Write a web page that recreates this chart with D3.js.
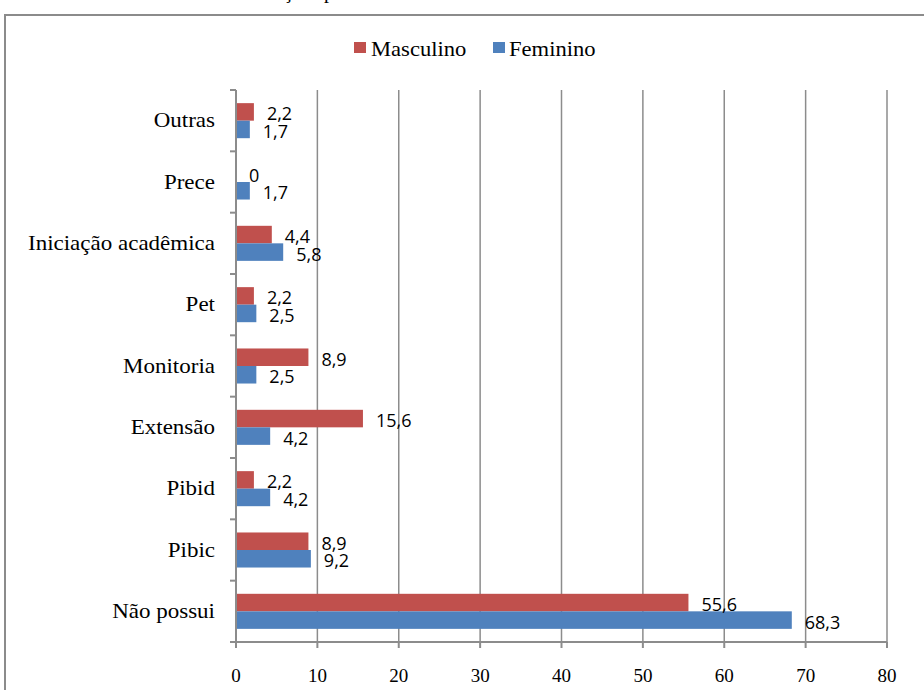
<!DOCTYPE html>
<html>
<head>
<meta charset="utf-8">
<script src="https://cdn.jsdelivr.net/npm/d3@7"></script>
<style>
  body { margin: 0; background: #fff; }
  svg { display: block; }
</style>
</head>
<body>
<svg id="chart" width="924" height="690"></svg>
<script>
const categories = ["Outras", "Prece", "Iniciação acadêmica", "Pet", "Monitoria", "Extensão", "Pibid", "Pibic", "Não possui"];
const seriesNames = ["Masculino", "Feminino"];
const masculino = [2.2, 0, 4.4, 2.2, 8.9, 15.6, 2.2, 8.9, 55.6];
const feminino = [1.7, 1.7, 5.8, 2.5, 2.5, 4.2, 4.2, 9.2, 68.3];
const xTicks = [0, 10, 20, 30, 40, 50, 60, 70, 80];
const titleText = "Bolsas e atuações por sexo";

const colors = { Masculino: "#C0504D", Feminino: "#4F81BD" };
const fmt = v => String(v).replace(".", ",");

const svg = d3.select("#chart");
const W = 924, H = 690;
svg.append("rect").attr("width", W).attr("height", H).attr("fill", "#fff");

// cut-off title (only descenders visible, as in the reference)
const title = svg.append("text")
  .attr("y", -2)
  .attr("font-family", "Liberation Serif, Times New Roman, serif")
  .attr("font-size", 20)
  .attr("fill", "#000")
  .text(titleText);
{
  const idx = titleText.indexOf("ç");
  const node = title.node();
  let off = 0, cw = 9;
  try { off = node.getSubStringLength(0, idx); cw = node.getSubStringLength(idx, 1); } catch (e) { off = 180; }
  title.attr("x", 288 - off - cw / 2);
}

// outer frame
svg.append("rect")
  .attr("x", 5).attr("y", 15)
  .attr("width", 940).attr("height", 700)
  .attr("fill", "none")
  .attr("stroke", "#8b8b8b")
  .attr("stroke-width", 2);

const x0 = 236, x1 = 887, yTop = 90, yBot = 642;
const x = d3.scaleLinear().domain([0, 80]).range([x0, x1]);
const y = d3.scaleBand().domain(categories).range([yTop, yBot]).padding(0);
const yInner = d3.scaleBand().domain(seriesNames).range([0, y.bandwidth()])
  .paddingInner(0).paddingOuter(0.75);

const gridColor = "#8c8c8c";

// vertical gridlines
svg.append("g").selectAll("line")
  .data(xTicks.filter(t => t > 0))
  .join("line")
  .attr("x1", d => x(d)).attr("x2", d => x(d))
  .attr("y1", yTop).attr("y2", yBot)
  .attr("stroke", gridColor).attr("stroke-width", 1.5);

// bars
const rows = categories.map((c, i) => ({ cat: c, Masculino: masculino[i], Feminino: feminino[i] }));
const groups = svg.append("g").selectAll("g")
  .data(rows).join("g")
  .attr("transform", d => `translate(0,${y(d.cat)})`);

groups.selectAll("rect")
  .data(d => seriesNames.map(s => ({ s, v: d[s] })))
  .join("rect")
  .attr("x", x(0))
  .attr("y", d => yInner(d.s))
  .attr("width", d => x(d.v) - x(0))
  .attr("height", yInner.bandwidth())
  .attr("fill", d => colors[d.s]);

// data labels
groups.selectAll("text")
  .data(d => seriesNames.map(s => ({ s, v: d[s] })))
  .join("text")
  .attr("x", d => x(d.v) + 13)
  .attr("y", d => yInner(d.s) + yInner.bandwidth() / 2 + 1.5)
  .attr("dominant-baseline", "central")
  .attr("font-family", "Open Sans, sans-serif")
  .attr("font-size", 18)
  .attr("fill", "#000")
  .text(d => fmt(d.v));

// axes lines
const axisG = svg.append("g");
axisG.append("line")
  .attr("x1", x0).attr("x2", x0).attr("y1", yTop).attr("y2", yBot + 6)
  .attr("stroke", gridColor).attr("stroke-width", 2);
axisG.append("line")
  .attr("x1", x0 - 6).attr("x2", x1).attr("y1", yBot).attr("y2", yBot)
  .attr("stroke", gridColor).attr("stroke-width", 2);

// y ticks at band boundaries
const yBounds = categories.map(c => y(c)).concat([yBot]);
axisG.selectAll(".yt").data(yBounds).join("line")
  .attr("x1", x0 - 6).attr("x2", x0)
  .attr("y1", d => d).attr("y2", d => d)
  .attr("stroke", gridColor).attr("stroke-width", 2);

// x ticks
axisG.selectAll(".xt").data(xTicks).join("line")
  .attr("x1", d => x(d)).attr("x2", d => x(d))
  .attr("y1", yBot).attr("y2", yBot + 6)
  .attr("stroke", gridColor).attr("stroke-width", 2);

// x tick labels
svg.append("g").selectAll("text").data(xTicks).join("text")
  .attr("x", d => x(d)).attr("y", 682)
  .attr("text-anchor", "middle")
  .attr("font-family", "Liberation Serif, Times New Roman, serif")
  .attr("font-size", 19)
  .attr("fill", "#000")
  .text(d => d);

// category labels
svg.append("g").selectAll("text").data(categories).join("text")
  .attr("transform", d => `translate(215,${y(d) + y.bandwidth() / 2 + 6.5}) scale(1.15,1)`)
  .attr("text-anchor", "end")
  .attr("font-family", "Liberation Serif, Times New Roman, serif")
  .attr("font-size", 20)
  .attr("fill", "#000")
  .text(d => d);

// legend
const legendPos = [{ s: "Masculino", x: 354, tx: 371 }, { s: "Feminino", x: 493, tx: 509 }];
const lg = svg.append("g");
lg.selectAll("rect").data(legendPos).join("rect")
  .attr("x", d => d.x).attr("y", 42).attr("width", 12).attr("height", 11)
  .attr("fill", d => colors[d.s]);
lg.selectAll("text").data(legendPos).join("text")
  .attr("transform", d => `translate(${d.tx},56) scale(1.13,1)`)
  .attr("font-family", "Liberation Serif, Times New Roman, serif")
  .attr("font-size", 20)
  .attr("fill", "#000")
  .text(d => d.s);
</script>
</body>
</html>
